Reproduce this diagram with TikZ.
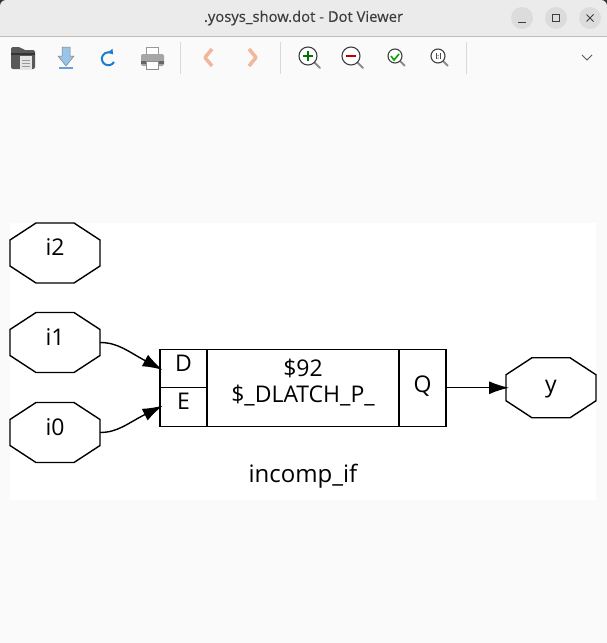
\documentclass[tikz,border=0pt]{standalone}
\usepackage{fontspec}
\setmainfont{Open Sans}
\newfontfamily\titlefont[FakeBold=0.35]{Open Sans}
\usetikzlibrary{arrows.meta}
\definecolor{winbg}{HTML}{FAFAFA}
\definecolor{barbg}{HTML}{EBEBEB}
\definecolor{btnbg}{HTML}{DCDCDC}
\definecolor{inkdark}{HTML}{3D3D3D}
\definecolor{iconblue}{HTML}{1C7CD0}
\definecolor{chevron}{HTML}{F0B79A}
\tikzset{
  cellbox/.style={draw,line width=1.4pt,outer sep=0pt,inner sep=0pt,align=center,font=\fontsize{23}{26}\selectfont},
  octbox/.style={minimum width=90pt,minimum height=60pt,inner sep=0pt,outer sep=0pt,font=\fontsize{23}{26}\selectfont},
  edgeline/.style={line width=1.4pt,shorten >=-3pt,-{Latex[length=20pt,width=13pt]}},
  iconsep/.style={draw=black!15,line width=0.8pt},
  lens/.style={draw=black!75,fill=white,line width=1.1pt},
  lenshandle/.style={draw=black!45,line width=2pt,line cap=round},
}
\begin{document}
\begin{tikzpicture}[x=1pt,y=-1pt]
 \useasboundingbox (0,0) rectangle (607,643);
 \fill[winbg] (0,0) rectangle (607,643);
 % title bar
 \fill[black!80] (0,0) rectangle (607,8);
 \fill[barbg,rounded corners=6pt] (0,0) rectangle (607,20);
 \fill[barbg] (0,10) rectangle (607,36);
 \draw[black!25,line width=0.8pt] (0,36) -- (607,36);
 \node[font=\titlefont\fontsize{14.8}{17}\selectfont,text=inkdark] (title) at (303.5,18) {.yosys\_show.dot - Dot Viewer};
 \foreach \x in {522,556,590}
   \fill[btnbg] (\x,18) circle (11);
 \draw[inkdark,line width=1pt] (518,22.5) -- (526,22.5);
 \draw[inkdark,line width=1pt] (552.5,14.5) rectangle (559.5,21.5);
 \draw[inkdark,line width=1pt] (586.5,14.5) -- (593.5,21.5) (593.5,14.5) -- (586.5,21.5);

 % toolbar
 \foreach \x in {180.5,280.5,466.5}
   \draw[iconsep] (\x,42) -- (\x,74);
 % open
 \fill[black!65,rounded corners=2pt] (11,47) -- (21,47) -- (23,50) -- (35,50) -- (35,69) -- (11,69) -- cycle;
 \fill[black!80] (11,53) rectangle (35,55);
 \fill[white!90!black] (20,56) rectangle (32,69);
 \draw[black!40,line width=0.6pt] (22,60) -- (30,60) (22,63) -- (30,63) (22,66) -- (30,66);
 % save
 \fill[iconblue!45,draw=black!50,line width=0.5pt] (62,47) -- (70,47) -- (70,56) -- (74,56) -- (66,66) -- (58,56) -- (62,56) -- cycle;
 \fill[iconblue!70] (59,67) rectangle (73,69);
 % reload
 \draw[iconblue,line width=2pt,-{Latex[length=5pt,width=7pt]}] (114,62) arc (30:320:6.5);
 % print
 \fill[white,draw=black!40,line width=0.6pt] (146,47) rectangle (158,54);
 \fill[black!35,rounded corners=2pt] (141,54) rectangle (164,66);
 \fill[black!60] (141,61) rectangle (164,64);
 \fill[white,draw=black!45,line width=0.6pt] (146,61) rectangle (158,69);
 % back, forward
 \draw[chevron,line width=3.5pt,line join=round] (212,49) -- (205,57.5) -- (212,66);
 \draw[chevron,line width=3.5pt,line join=round] (249,49) -- (256,57.5) -- (249,66);
 % zoom
 \foreach \x/\r/\s in {308/9/20,351/9/20,395/7/16,438/7/16} {
   \draw[lenshandle] (\x+0.7*\r,56+0.7*\r) -- (\x+\s*0.6,56+\s*0.6);
   \draw[lens] (\x,56) circle (\r);
 }
 \draw[green!45!black,line width=1.8pt] (303,56) -- (313,56) (308,51) -- (308,61);
 \draw[red!75!black,line width=1.8pt] (346,56) -- (356,56);
 \draw[green!65!black,line width=1.6pt] (391,56) -- (394,60) -- (399,54);
 \draw[black!70,line width=0.7pt] (436,53) -- (436,59) (440,53) -- (440,59);
 \fill[black!70] (437.5,55) rectangle (438.5,56) (437.5,57.5) rectangle (438.5,58.5);
 \draw[black!65,line width=0.9pt] (582,55) -- (587,60) -- (592,55);

 % graph
 \fill[white] (10,223) rectangle (596,500);
 \foreach \n/\x/\y/\t/\d in {i2/55/253/i2/10.5,i1/55/342.5/i1/10.5,i0/55/432.5/i0/10.5,y/551/387.75/y/7} {
   \node[octbox,text height=16pt,text depth=\d pt] (\n) at (\x,\y) {\t};
   \draw[line width=1.4pt] (\n.west) ++(0,-13) -- ++(26,-17) -- ++(38,0) -- ++(26,17) -- ++(0,26) -- ++(-26,17) -- ++(-38,0) -- ++(-26,-17) -- cycle;
 }
 \node[cellbox,minimum width=47pt,minimum height=38.5pt,text height=16pt,text depth=10pt] (D) at (183.5,368.5) {D};
 \node[cellbox,minimum width=47pt,minimum height=38.5pt,text height=16pt,text depth=12pt] (E) at (183.5,407) {E};
 \node[cellbox,minimum width=192pt,minimum height=77pt] (cell) at (303,387.75) {};
 \node[font=\fontsize{23}{26}\selectfont,align=center,inner sep=0pt] (cellname) at (303,382.5) {\$92\\\$\_DLATCH\_P\_};
 \node[cellbox,minimum width=47pt,minimum height=77pt,text height=16pt,text depth=6pt] (Q) at (422.5,387.75) {Q};
 \node[font=\fontsize{24}{26}\selectfont] (name) at (303,476) {incomp\_if};

 \draw[edgeline] (i1.east) .. controls +(18,0) and +(-32,-17) .. (D.west);
 \draw[edgeline] (i0.east) .. controls +(18,0) and +(-32,16) .. (E.west);
 \draw[edgeline] (Q.east) -- (y.west);
\end{tikzpicture}
\end{document}
